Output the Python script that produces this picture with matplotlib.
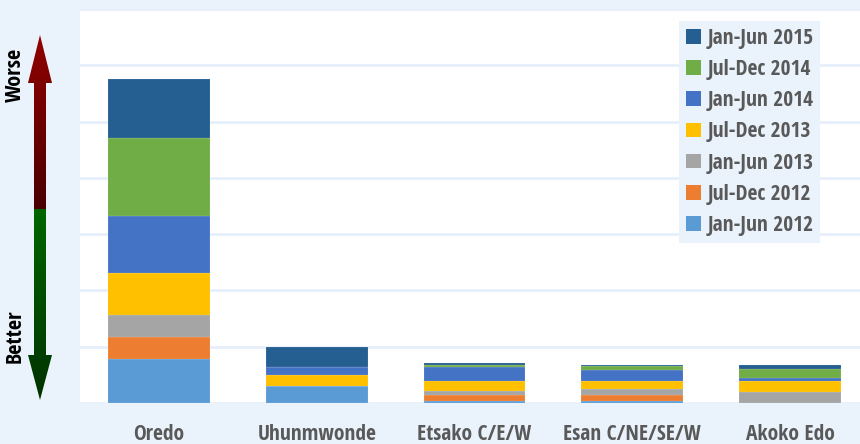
import matplotlib
matplotlib.use("Agg")
import matplotlib.pyplot as plt
import numpy as np
from matplotlib.patches import Polygon
from matplotlib.colors import LinearSegmentedColormap

plt.rcParams['font.family'] = ['Open Sans Condensed', 'DejaVu Sans']

# Data (10 units per gridline)
lgas = ["Oredo", "Uhunmwonde", "Etsako C/E/W", "Esan C/NE/SE/W", "Akoko Edo"]
periods = ["Jan-Jun 2012", "Jul-Dec 2012", "Jan-Jun 2013", "Jul-Dec 2013",
           "Jan-Jun 2014", "Jul-Dec 2014", "Jan-Jun 2015"]
jan_jun_2012 = [7.8, 3.1, 0.3, 0.35, 0.0]
jul_dec_2012 = [3.9, 0.0, 1.05, 1.0, 0.0]
jan_jun_2013 = [3.85, 0.0, 0.7, 1.05, 2.0]
jul_dec_2013 = [7.5, 1.85, 1.85, 1.5, 1.9]
jan_jun_2014 = [10.2, 1.45, 2.45, 2.0, 0.6]
jul_dec_2014 = [13.8, 0.0, 0.4, 0.6, 1.5]
jan_jun_2015 = [10.6, 3.55, 0.3, 0.25, 0.75]

series = [jan_jun_2012, jul_dec_2012, jan_jun_2013, jul_dec_2013,
          jan_jun_2014, jul_dec_2014, jan_jun_2015]
colors = ["#5B9BD5", "#ED7D31", "#A5A5A5", "#FFC000", "#4472C4", "#70AD47", "#255E91"]

bg = "#EAF3FC"
text_col = "#595959"

fig = plt.figure(figsize=(8.6, 4.44), dpi=100, facecolor=bg)
ax = fig.add_axes([80 / 860, 41 / 444, 789 / 860, 394 / 444])
ax.set_facecolor("white")

x = np.arange(len(lgas))
bottom = np.zeros(len(lgas))
handles = []
for vals, col, lab in zip(series, colors, periods):
    b = ax.bar(x, vals, width=0.645, bottom=bottom, color=col, label=lab,
               edgecolor=(1, 1, 1, 0.3), linewidth=0.3, zorder=3)
    handles.append(b)
    bottom += np.array(vals)

ax.set_xlim(-0.5, len(lgas) - 0.5)
ax.set_ylim(0, 70)
ax.set_yticks(np.arange(0, 71, 10))
ax.set_yticklabels([])
ax.tick_params(axis='y', length=0)
ax.tick_params(axis='x', length=0, pad=15)
ax.grid(axis='y', color="#E6F0FB", linewidth=2, zorder=0)
for s in ax.spines.values():
    s.set_visible(False)
ax.set_xticks(x)
ax.set_xticklabels(lgas, fontsize=15.5, fontweight='bold', color=text_col)

leg = ax.legend(handles[::-1], periods[::-1], loc='upper left',
                bbox_to_anchor=(679 / 860, 1 - 21 / 444), bbox_transform=fig.transFigure,
                frameon=True, fancybox=False, facecolor=bg, edgecolor='none', framealpha=1,
                fontsize=15.5, handlelength=0.68, handleheight=0.68, handletextpad=0.3,
                labelspacing=0.47, borderpad=0.33, borderaxespad=0)
for t in leg.get_texts():
    t.set_color(text_col)
    t.set_fontweight('bold')
for h in leg.legend_handles:
    h.set_edgecolor('none')

# Better / Worse arrow on the left, in pixel coordinates
aa = fig.add_axes([0, 0, 80 / 860, 1])
aa.set_xlim(0, 80)
aa.set_ylim(444, 0)
aa.axis('off')

red_poly = Polygon([(40, 35), (52, 83), (46, 83), (46, 209), (34, 209), (34, 83), (28, 83)],
                   closed=True, facecolor='none', edgecolor='none')
green_poly = Polygon([(34, 209), (46, 209), (46, 355), (52, 355), (40, 400), (28, 355), (34, 355)],
                     closed=True, facecolor='none', edgecolor='none')
aa.add_patch(red_poly)
aa.add_patch(green_poly)

grad = np.linspace(0, 1, 256).reshape(-1, 1)
red_cmap = LinearSegmentedColormap.from_list("r", ["#920000", "#4A0000"])
green_cmap = LinearSegmentedColormap.from_list("g", ["#006600", "#003200"])
im_r = aa.imshow(grad, cmap=red_cmap, extent=(28, 52, 209, 35), aspect='auto')
im_r.set_clip_path(red_poly)
im_g = aa.imshow(grad, cmap=green_cmap, extent=(28, 52, 400, 209), aspect='auto')
im_g.set_clip_path(green_poly)
aa.set_xlim(0, 80)
aa.set_ylim(444, 0)

aa.text(15, 75, "Worse", rotation=90, ha='center', va='center',
        fontsize=16, fontweight='bold', color='black')
aa.text(15, 336, "Better", rotation=90, ha='center', va='center',
        fontsize=16, fontweight='bold', color='black')

fig.savefig("out.png", dpi=100, facecolor=bg)
